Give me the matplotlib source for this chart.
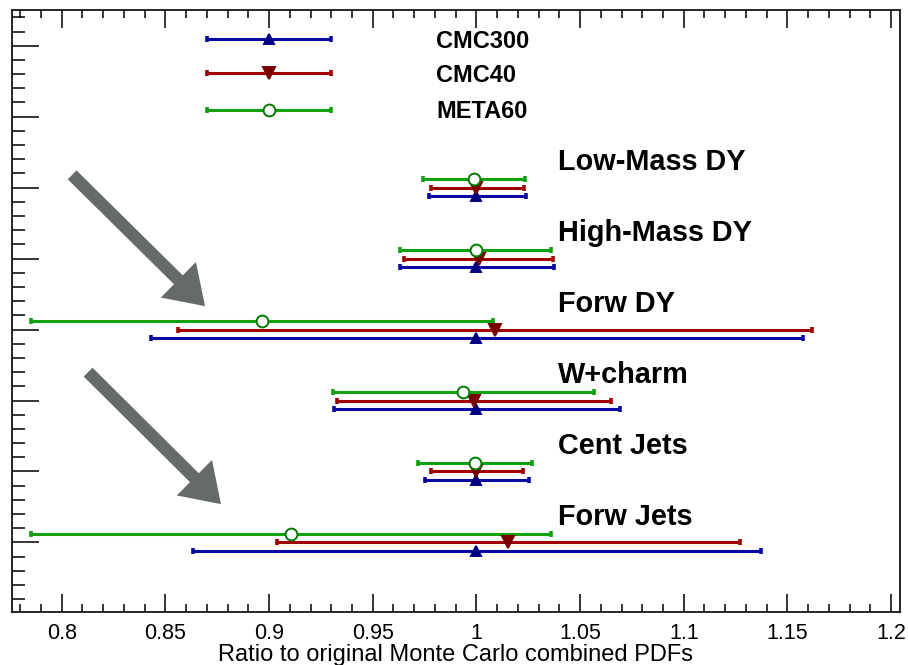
import matplotlib
matplotlib.use("Agg")
import matplotlib.pyplot as plt
from matplotlib.ticker import MultipleLocator
import numpy as np

plt.rcParams['font.family'] = ['Liberation Sans', 'DejaVu Sans']

# Measurements (row labels, from top to bottom of the chart)
labels = ["Low-Mass DY", "High-Mass DY", "Forw DY", "W+charm", "Cent Jets", "Forw Jets"]
rows = [6, 5, 4, 3, 2, 1]

# Central value and lower/upper edge of the ratio interval for each PDF set
cmc300_c = [1.000, 1.000, 1.000, 1.000, 1.000, 1.000]
cmc300_lo = [0.977, 0.963, 0.843, 0.9315, 0.975, 0.8635]
cmc300_hi = [1.0238, 1.0375, 1.1573, 1.0693, 1.0253, 1.1373]

cmc40_c = [1.000, 1.0013, 1.009, 0.9986, 1.000, 1.0154]
cmc40_lo = [0.978, 0.9653, 0.8563, 0.9327, 0.9783, 0.9037]
cmc40_hi = [1.0229, 1.0371, 1.1618, 1.0648, 1.0227, 1.1269]

meta60_c = [0.9989, 0.9997, 0.8965, 0.9937, 0.9994, 0.9105]
meta60_lo = [0.9744, 0.9633, 0.785, 0.9307, 0.972, 0.7852]
meta60_hi = [1.0232, 1.0359, 1.0079, 1.0565, 1.0267, 1.0362]

# Legend entries: name, central value, interval, vertical position
legend_names = ["CMC300", "CMC40", "META60"]
legend_c = [0.90, 0.90, 0.90]
legend_lo = [0.87, 0.87, 0.87]
legend_hi = [0.93, 0.93, 0.93]
legend_y = [8.09, 7.61, 7.10]

fig = plt.figure(figsize=(9.08, 6.65), dpi=100)
ax = fig.add_axes([12 / 908, 1 - 612 / 665, 888 / 908, 602 / 665])

series = [
    dict(c=cmc300_c, lo=cmc300_lo, hi=cmc300_hi, off=-0.12, line="#0a0aa0",
         marker="^", mfc="#000080", mec="#000080", ms=7),
    dict(c=cmc40_c, lo=cmc40_lo, hi=cmc40_hi, off=0.0, line="#a00000",
         marker="v", mfc="#7a0000", mec="#7a0000", ms=8.5),
    dict(c=meta60_c, lo=meta60_lo, hi=meta60_hi, off=0.12, line="#10a010",
         marker="o", mfc="white", mec="#007a00", ms=8.5),
]


def draw_bar(x, lo, hi, y, s):
    x = np.asarray(x)
    err = [x - np.asarray(lo), np.asarray(hi) - x]
    ax.errorbar(x, y, xerr=err, fmt="none", ecolor=s["line"], elinewidth=2.2,
                capsize=2.4, capthick=2.6, zorder=2)
    ax.plot(x, y, linestyle="none", marker=s["marker"], markerfacecolor=s["mfc"],
            markeredgecolor=s["mec"], markersize=s["ms"], markeredgewidth=1.4,
            zorder=3)


for s in series:
    ys = np.asarray(rows, dtype=float) + s["off"]
    draw_bar(s["c"], s["lo"], s["hi"], ys, s)

for i, s in enumerate(series):
    draw_bar([legend_c[i]], [legend_lo[i]], [legend_hi[i]], [legend_y[i]], s)
    ax.text(0.9806, legend_y[i] - 0.12, legend_names[i], fontsize=17,
            fontweight="bold", ha="left", va="baseline")

for lab, r in zip(labels, rows):
    ax.text(1.0394, r + 0.25, lab, fontsize=20.8, fontweight="bold",
            ha="left", va="baseline")

# Arrows pointing at the forward measurements
arrow_color = "#5e6361"
for tail, tip in [((0.805, 6.18), (0.8691, 4.33)), ((0.8127, 3.40), (0.8768, 1.54))]:
    ax.annotate("", xy=tip, xytext=tail, xycoords="data",
                arrowprops=dict(arrowstyle="simple,head_length=1.35,head_width=1.8,tail_width=0.45",
                                mutation_scale=20, color=arrow_color, alpha=0.95,
                                shrinkA=0, shrinkB=0, lw=0))

ax.set_xlim(0.776, 1.2043)
ax.set_ylim(0.02, 8.503)

ax.xaxis.set_major_locator(MultipleLocator(0.05))
ax.xaxis.set_minor_locator(MultipleLocator(0.01))
ax.yaxis.set_major_locator(MultipleLocator(1))
ax.yaxis.set_minor_locator(MultipleLocator(0.2))
ax.xaxis.set_major_formatter(plt.FuncFormatter(lambda v, p: f"{v:.2f}".rstrip("0").rstrip(".")))

ax.tick_params(axis="x", which="both", direction="in", top=True, bottom=True,
               labelsize=15.5, pad=8, width=1.1)
ax.tick_params(axis="x", which="major", length=13)
ax.tick_params(axis="x", which="minor", length=6)
ax.tick_params(axis="y", which="both", direction="in", left=True, right=False,
               labelleft=False, width=1.1)
ax.tick_params(axis="y", which="major", length=19.5)
ax.tick_params(axis="y", which="minor", length=9.5)

for sp in ax.spines.values():
    sp.set_linewidth(1.2)

ax.set_xlabel("Ratio to original Monte Carlo combined PDFs", fontsize=17, labelpad=0)

fig.savefig("out.png", dpi=100)
